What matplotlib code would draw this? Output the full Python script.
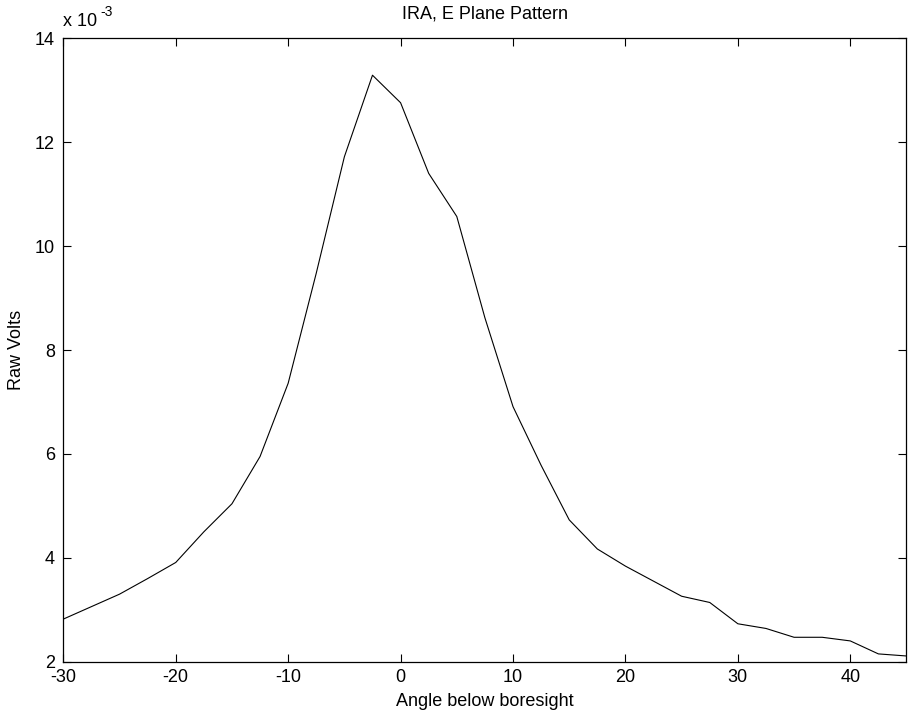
import numpy
from matplotlib import pyplot as plt
import matplotlib

matplotlib.rcParams['font.size'] = 13
matplotlib.rcParams['font.family'] = 'sans-serif'
matplotlib.rcParams['font.sans-serif'] = ["Liberation Sans", "DejaVu Sans"]
matplotlib.rcParams['axes.unicode_minus'] = False

# angle (deg) and raw volts (x 1e-3)
angle = [-30, -27.5, -25, -22.5, -20, -17.5, -15, -12.5, -10, -7.5, -5, -2.5,
         0, 2.5, 5, 7.5, 10, 12.5, 15, 17.5, 20, 22.5, 25, 27.5, 30, 32.5,
         35, 37.5, 40, 42.5, 45]
volts_milli = [2.82, 3.06, 3.30, 3.60, 3.91, 4.50, 5.04, 5.95, 7.36, 9.48, 11.72, 13.29,
               12.76, 11.40, 10.57, 8.62, 6.91, 5.78, 4.73, 4.17, 3.84, 3.55, 3.26, 3.14,
               2.73, 2.64, 2.47, 2.47, 2.40, 2.15, 2.11]

x_ticks = [-30, -20, -10, 0, 10, 20, 30, 40]
y_ticks = [2, 4, 6, 8, 10, 12, 14]

fig = plt.figure(figsize=(9.15, 7.19), dpi=100)
ax = fig.add_axes([0.0692, 0.0797, 0.9215, 0.8670])

ax.plot(angle, volts_milli, color='black', linewidth=0.8)

ax.set_xlim(-30, 45)
ax.set_ylim(2, 14)
ax.set_xticks(x_ticks)
ax.set_yticks(y_ticks)
ax.tick_params(direction='in', top=True, right=True, length=6, width=0.8)
ax.tick_params(axis='x', pad=5)
ax.tick_params(axis='y', pad=6)
for s in ax.spines.values():
    s.set_linewidth(0.9)

# exponent label in matlab style
ax.annotate('x 10', xy=(0, 1), xycoords='axes fraction', xytext=(0, 6),
            textcoords='offset points', ha='left', va='bottom')
ax.annotate('-3', xy=(0, 1), xycoords='axes fraction', xytext=(27, 14),
            textcoords='offset points', ha='left', va='bottom', fontsize=10)

ax.set_title('IRA, E Plane Pattern', fontsize=13, pad=14)
ax.set_xlabel('Angle below boresight', labelpad=5)
ax.set_ylabel('Raw Volts', labelpad=7)

plt.savefig('out.png', dpi=100)
